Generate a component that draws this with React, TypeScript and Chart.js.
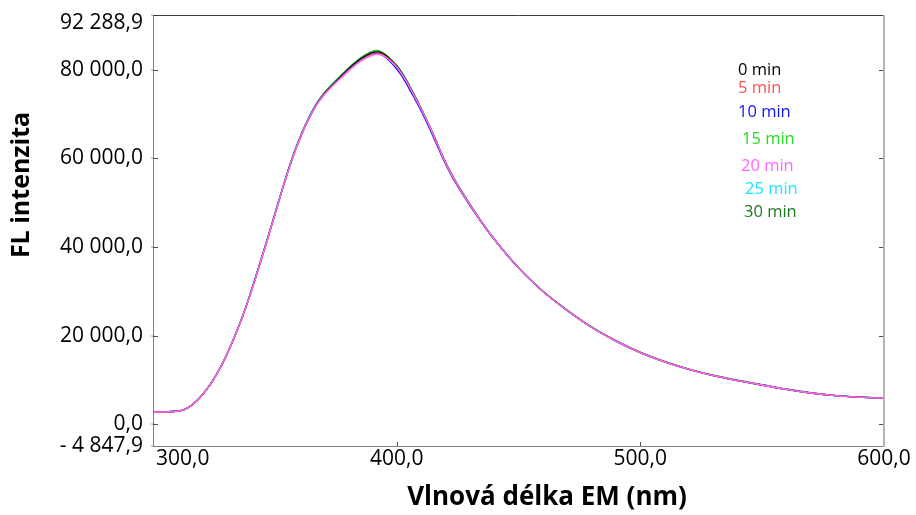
import React, { useEffect, useRef } from "react";
import { Chart, registerables } from "chart.js";

Chart.register(...registerables);

// ---------- data ----------
const wavelengths = [
  300, 305, 310, 313, 316, 319, 322, 325, 328, 331, 334, 337, 340, 343, 346, 349, 352, 355, 358, 361, 364,
  367, 370, 373, 376, 379, 382, 385, 388, 390, 392, 394, 396, 398, 400, 402, 404, 406, 408, 410,
  413, 416, 419, 422, 425, 430, 435, 440, 445, 450,
  460, 470, 480, 490, 500, 510, 520, 530, 540, 550, 560, 570, 580, 590, 600,
];

const min0 = [
  2800, 2850, 3000, 3400, 4400, 5900, 7900, 10300, 13200, 16600, 20500, 24700, 29500, 34700, 40000, 45500, 51000, 56400, 61300, 65500, 69100,
  72100, 74400, 76200, 77900, 79500, 81000, 82300, 83300, 83800, 84000, 83700, 83000, 82000, 80800, 79300, 77500, 75500, 73400, 71200,
  67800, 64100, 60300, 56900, 54000, 49600, 45500, 41800, 38400, 35300,
  30000, 25700, 21900, 18800, 16200, 14100, 12400, 11000, 9900, 8900, 7900, 7100, 6500, 6150, 5950,
];
const min5 = [
  2750, 2800, 3000, 3400, 4400, 5900, 7900, 10300, 13200, 16600, 20400, 24600, 29400, 34600, 39900, 45400, 50900, 56300, 61200, 65400, 69000,
  72000, 74300, 76000, 77600, 79200, 80600, 81900, 82900, 83400, 83600, 83400, 82700, 81800, 80600, 79100, 77300, 75300, 73200, 71100,
  67700, 64000, 60200, 56800, 53900, 49600, 45500, 41800, 38400, 35300,
  30000, 25700, 21900, 18800, 16200, 14100, 12400, 11000, 9900, 8900, 7900, 7100, 6500, 6150, 5950,
];
const min10 = [
  2800, 2850, 3000, 3400, 4400, 5900, 7900, 10300, 13200, 16600, 20500, 24700, 29500, 34700, 40000, 45500, 51000, 56300, 61100, 65300, 68900,
  71900, 74200, 76000, 77700, 79300, 80700, 82000, 83000, 83500, 83700, 83300, 82500, 81400, 80100, 78600, 76800, 74800, 72800, 70700,
  67300, 63600, 59900, 56600, 53700, 49400, 45400, 41700, 38400, 35300,
  30000, 25700, 21900, 18800, 16200, 14100, 12400, 11000, 9900, 8900, 7900, 7100, 6500, 6150, 5950,
];
const min15 = [
  2850, 2900, 3050, 3400, 4400, 5900, 7900, 10300, 13200, 16600, 20500, 24700, 29600, 34800, 40100, 45600, 51100, 56500, 61400, 65600, 69200,
  72200, 74500, 76400, 78100, 79700, 81200, 82500, 83500, 84000, 84200, 83800, 83100, 82100, 80900, 79400, 77600, 75600, 73500, 71300,
  67900, 64200, 60400, 57000, 54000, 49700, 45500, 41800, 38400, 35300,
  30000, 25700, 21900, 18800, 16200, 14100, 12400, 11000, 9900, 8900, 7900, 7100, 6500, 6150, 5950,
];
const min20 = [
  2800, 2850, 3000, 3400, 4400, 5900, 7900, 10300, 13200, 16600, 20500, 24700, 29500, 34700, 40000, 45500, 51000, 56400, 61200, 65400, 69000,
  71900, 74100, 75900, 77500, 79000, 80500, 81800, 82700, 83200, 83400, 83200, 82600, 81700, 80600, 79100, 77400, 75400, 73300, 71200,
  67800, 64100, 60300, 56900, 54000, 49600, 45500, 41800, 38400, 35300,
  30000, 25700, 21900, 18800, 16200, 14100, 12400, 11000, 9900, 8900, 7900, 7100, 6500, 6150, 5950,
];
const min25 = [
  2800, 2850, 3000, 3400, 4400, 5900, 7900, 10300, 13200, 16700, 20600, 24800, 29700, 34900, 40200, 45700, 51200, 56600, 61500, 65700, 69300,
  72300, 74600, 76400, 78000, 79600, 81100, 82400, 83400, 83900, 84100, 83700, 83000, 82000, 80800, 79300, 77500, 75500, 73400, 71200,
  67800, 64100, 60300, 56900, 54000, 49600, 45500, 41800, 38400, 35300,
  30000, 25700, 21900, 18800, 16200, 14100, 12400, 11000, 9900, 8900, 7900, 7100, 6500, 6150, 5950,
];
const min30 = [
  2850, 2900, 3000, 3400, 4400, 5900, 7900, 10300, 13200, 16600, 20500, 24700, 29600, 34800, 40100, 45600, 51100, 56500, 61400, 65600, 69200,
  72200, 74500, 76300, 78000, 79700, 81200, 82600, 83600, 84100, 84300, 83900, 83100, 82100, 80900, 79400, 77600, 75600, 73500, 71300,
  67900, 64200, 60400, 57000, 54100, 49700, 45600, 41900, 38500, 35400,
  30100, 25800, 22000, 18900, 16300, 14200, 12500, 11100, 10000, 9000, 8000, 7200, 6550, 6200, 6000,
];

const seriesNames = ["0 min", "5 min", "10 min", "15 min", "20 min", "25 min", "30 min"];
const seriesValues = [min0, min5, min10, min15, min20, min25, min30];
const xTickValues = [300, 400, 500, 600];
const yTickValues = [-4847.9, 0, 20000, 40000, 60000, 80000, 92288.9];
const xMin = 300;
const xMax = 600;
const yMin = -4847.9;
const yMax = 92288.9;
const xTitle = "Vlnová délka EM (nm)";
const yTitle = "FL intenzita";

// ---------- styles ----------
const seriesColors = ["#000000", "#ff4f4f", "#1010ff", "#22e022", "#ff66ff", "#18e8ff", "#1f7a1f"];
const drawOrder = [3, 1, 2, 4, 0, 5, 6];
const legendPos: [number, number][] = [
  [738, 70],
  [738, 88],
  [738, 112],
  [742, 139],
  [741, 166],
  [745, 189],
  [744, 212],
];
const FONT = "'Open Sans', 'Noto Sans', sans-serif";
const TICK_SIZE = 21;
const TICK_PAD = 0;

function formatCz(v: number): string {
  const neg = v < 0;
  const fixed = Math.abs(v).toFixed(1);
  const [ip, dp] = fixed.split(".");
  const grouped = ip.replace(/\B(?=(\d{3})+(?!\d))/g, " ");
  return (neg ? "- " : "") + grouped + "," + dp;
}

const decorPlugin = {
  id: "decor",
  afterDraw(chart: any) {
    const ctx = chart.ctx as CanvasRenderingContext2D;
    const ca = chart.chartArea;
    const xs = chart.scales.x;
    const ys = chart.scales.y;
    ctx.save();

    // top frame line
    ctx.strokeStyle = "#3c3c3c";
    ctx.lineWidth = 1;
    ctx.beginPath();
    ctx.moveTo(ca.left, ca.top + 0.5);
    ctx.lineTo(ca.right, ca.top + 0.5);
    ctx.stroke();
    // right frame line
    ctx.strokeStyle = "#b4b4b4";
    ctx.lineWidth = 2;
    ctx.beginPath();
    ctx.moveTo(ca.right, ca.top);
    ctx.lineTo(ca.right, ca.bottom + 1);
    ctx.stroke();

    // inward tick marks
    ctx.lineWidth = 1;
    ctx.strokeStyle = "#505050";
    yTickValues.forEach((v) => {
      const py = Math.round(ys.getPixelForValue(v)) + 0.5;
      if (v !== yMin && v !== yMax) {
        ctx.beginPath();
        ctx.moveTo(ca.left, py);
        ctx.lineTo(ca.left + 5, py);
        ctx.stroke();
        ctx.beginPath();
        ctx.moveTo(ca.right - 1, py);
        ctx.lineTo(ca.right - 5, py);
        ctx.stroke();
      }
    });
    xTickValues.forEach((v) => {
      if (v === xMin || v === xMax) return;
      const px = Math.round(xs.getPixelForValue(v)) + 0.5;
      ctx.beginPath();
      ctx.moveTo(px, ca.bottom);
      ctx.lineTo(px, ca.bottom - 4);
      ctx.stroke();
    });
    // small light-blue outer marks on left axis
    ctx.strokeStyle = "#b8d0e8";
    ctx.lineWidth = 2;
    yTickValues.forEach((v) => {
      const py = Math.round(ys.getPixelForValue(v));
      ctx.beginPath();
      ctx.moveTo(ca.left - 2, py);
      ctx.lineTo(ca.left, py);
      ctx.stroke();
    });

    // extreme tick labels shifted inwards
    ctx.fillStyle = "#000";
    ctx.font = `${TICK_SIZE}px ${FONT}`;
    ctx.textBaseline = "middle";
    ctx.textAlign = "right";
    ctx.fillText(formatCz(yMax), ca.left - 10, ys.getPixelForValue(yMax) + 8);
    ctx.textAlign = "left";
    ctx.fillText(formatCz(xMin), xs.getPixelForValue(xMin) + 3, ca.bottom + TICK_PAD + (TICK_SIZE * 1.2) / 2);

    // legend (text only)
    ctx.font = `16.5px ${FONT}`;
    ctx.textAlign = "left";
    ctx.textBaseline = "middle";
    seriesNames.forEach((n, i) => {
      ctx.fillStyle = seriesColors[i];
      ctx.fillText(n, legendPos[i][0], legendPos[i][1]);
    });

    // axis titles
    ctx.fillStyle = "#000";
    ctx.font = `bold 26px ${FONT}`;
    ctx.textAlign = "center";
    ctx.textBaseline = "middle";
    ctx.fillText(xTitle, 547, 498);
    ctx.font = `bold 25px ${FONT}`;
    ctx.translate(22, 185);
    ctx.rotate(-Math.PI / 2);
    ctx.fillText(yTitle, 0, 0);

    ctx.restore();
  },
};

export default function App() {
  const ref = useRef<HTMLCanvasElement | null>(null);

  useEffect(() => {
    document.body.style.margin = "0";
    const canvas = ref.current;
    if (!canvas) return;
    const datasets = seriesNames.map((name, i) => ({
      label: name,
      data: wavelengths.map((x, j) => ({ x, y: seriesValues[i][j] })),
      borderColor: seriesColors[i],
      backgroundColor: seriesColors[i],
      borderWidth: 1.3,
      pointRadius: 0,
      fill: false,
      cubicInterpolationMode: "monotone" as const,
      order: drawOrder[i],
    }));
    const chart = new Chart(canvas, {
      type: "line",
      data: { datasets },
      options: {
        responsive: false,
        animation: false,
        devicePixelRatio: 1,
        layout: { padding: { top: 15, right: 32, left: 0, bottom: 0 } },
        plugins: {
          legend: { display: false },
          tooltip: { enabled: false },
        },
        scales: {
          x: {
            type: "linear",
            min: xMin,
            max: xMax,
            afterBuildTicks: (s: any) => {
              s.ticks = xTickValues.map((v) => ({ value: v }));
            },
            afterFit: (s: any) => {
              s.height = 69;
              s.paddingLeft = 0;
              s.paddingRight = 0;
            },
            ticks: {
              autoSkip: false,
              maxRotation: 0,
              padding: TICK_PAD,
              color: "#000",
              font: { family: FONT, size: TICK_SIZE },
              callback: (v: any) => (v === xMin ? "" : formatCz(Number(v))),
            },
            grid: { display: false, drawTicks: false },
            border: { display: true, color: "#808080", width: 1 },
          },
          y: {
            type: "linear",
            min: yMin,
            max: yMax,
            afterBuildTicks: (s: any) => {
              s.ticks = yTickValues.map((v) => ({ value: v }));
            },
            afterFit: (s: any) => {
              s.width = 153;
              s.paddingTop = 0;
              s.paddingBottom = 0;
            },
            ticks: {
              autoSkip: false,
              padding: 10,
              color: "#000",
              font: { family: FONT, size: TICK_SIZE },
              callback: (v: any) => (v === yMax ? "" : formatCz(Number(v))),
            },
            grid: { display: false, drawTicks: false },
            border: { display: true, color: "#808080", width: 1 },
          },
        },
      },
      plugins: [decorPlugin],
    });
    return () => chart.destroy();
  }, []);

  return (
    <div style={{ width: 916, height: 515, position: "relative" }}>
      <canvas ref={ref} width={916} height={515} style={{ display: "block" }} />
    </div>
  );
}
